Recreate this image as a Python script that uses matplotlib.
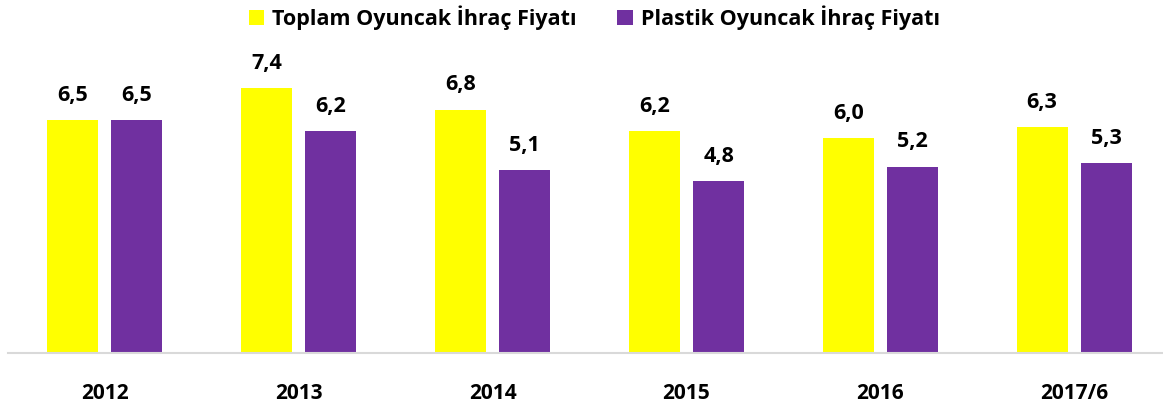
import numpy as np
import matplotlib
matplotlib.use("Agg")
import matplotlib.pyplot as plt

## ================= DATOS =================
years = ["2012", "2013", "2014", "2015", "2016", "2017/6"]
toplam = [6.5, 7.4, 6.8, 6.2, 6.0, 6.3]
plastik = [6.5, 6.2, 5.1, 4.8, 5.2, 5.3]
series_names = ["Toplam Oyuncak İhraç Fiyatı", "Plastik Oyuncak İhraç Fiyatı"]

plt.rcParams['font.family'] = ['Open Sans', 'DejaVu Sans']

W, H = 1163, 408
fig = plt.figure(figsize=(W / 100, H / 100), dpi=100)
# el eje llega hasta fuera del borde derecho, como en el original
ax = fig.add_axes([7.8 / W, (H - 353) / H, (6 * 193.9) / W, 353 / H])

x = np.arange(len(years))
bw = 0.263
b1 = ax.bar(x - 0.166, toplam, bw, color="#FFFF00", label=series_names[0])
b2 = ax.bar(x + 0.166, plastik, bw, color="#7030A0", label=series_names[1])

for bars, vals in ((b1, toplam), (b2, plastik)):
    for r, v in zip(bars, vals):
        ax.annotate(f"{v:.1f}".replace(".", ","),
                    (r.get_x() + r.get_width() / 2, v),
                    xytext=(0, 18), textcoords="offset points",
                    ha="center", va="center", fontsize=15.5, fontweight="bold")

ax.set_xlim(-0.5, len(years) - 0.5)
ax.set_ylim(0, 353 / 35.8)
ax.set_xticks(x)
ax.set_xticklabels(years, fontsize=15, fontweight="bold")
ax.tick_params(axis="x", length=0, pad=21.5)
ax.set_yticks([])
for s in ("top", "right", "left"):
    ax.spines[s].set_visible(False)
ax.spines["bottom"].set_color("#D9D9D9")
ax.spines["bottom"].set_linewidth(1.5)

fig.legend(loc="upper center", bbox_to_anchor=(0.511, 1.035), ncol=2,
           frameon=False, prop={"size": 15.5, "weight": "bold"},
           handlelength=0.7, handleheight=0.7, handletextpad=0.37,
           columnspacing=1.9)

fig.savefig("out.png", dpi=100)
